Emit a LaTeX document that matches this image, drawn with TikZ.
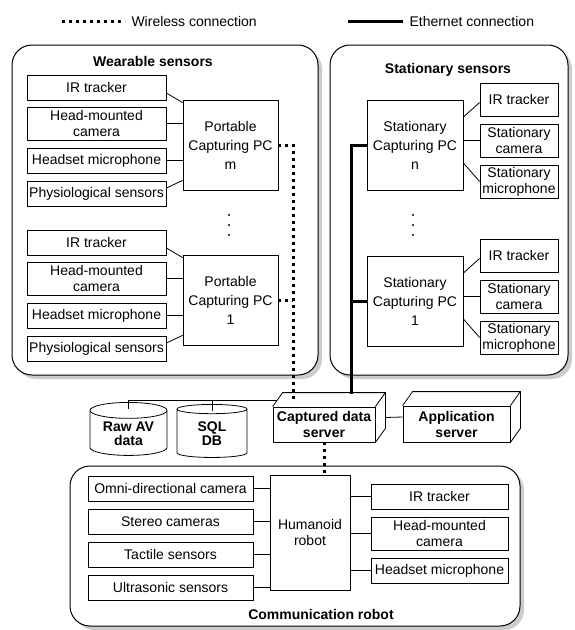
\documentclass[tikz,border=0pt]{standalone}
\usepackage{fontspec}
\setmainfont{Liberation Sans}
\usepackage{tikz}
\usetikzlibrary{calc,shapes.geometric,shadows}

\tikzset{
  box/.style={draw,line width=0.8pt,inner sep=2pt,align=center},
  pcbox/.style={box,minimum width=95pt,minimum height=90pt,font=\fontsize{14}{19}\selectfont},
  group/.style={draw,line width=1pt,rounded corners=20pt,fill=white,
    drop shadow={shadow xshift=4pt,shadow yshift=-4pt,fill=gray!40,opacity=1}},
  title/.style={font=\fontsize{14}{16}\selectfont\bfseries},
  db/.style={draw,line width=0.8pt,cylinder,shape border rotate=90,aspect=0.3,
    align=center,inner sep=1pt,font=\fontsize{14}{14}\selectfont\bfseries},
  server/.style={box,fill=white,font=\fontsize{14}{16}\selectfont\bfseries},
  link/.style={line width=0.8pt},
  wireless/.style={line width=3pt,dash pattern=on 3pt off 4pt},
  ethernet/.style={line width=3pt}
}

\begin{document}
\begin{tikzpicture}[x=1pt,y=-1pt,font=\fontsize{14}{16}\selectfont]
  \useasboundingbox (0,0) rectangle (575,630);

  % legend
  \coordinate (wlA) at (62,21);
  \coordinate (wlB) at (125,21);
  \draw[wireless] (wlA) -- (wlB);
  \node[anchor=west] (wlText) at (128,21) {Wireless connection};
  \coordinate (elA) at (348,21);
  \coordinate (elB) at (403,21);
  \draw[ethernet] (elA) -- (elB);
  \node[anchor=west] (elText) at (406,21) {Ethernet connection};

  % groups
  \node[group,minimum width=306pt,minimum height=330pt] (wear) at (165,210) {};
  \node[group,minimum width=238pt,minimum height=330pt] (stat) at (449,210) {};
  \node[group,minimum width=450pt,minimum height=160pt] (comm) at (295,546) {};
  \node[title] (wearT) at (153,61) {Wearable sensors};
  \node[title] (statT) at (448,70) {Stationary sensors};
  \node[title] (commT) at (321,614) {Communication robot};

  \foreach \g/\dy in {m/0,1/155} {
    \begin{scope}[yshift=-\dy pt]
      \node[box,minimum width=139pt,minimum height=25pt] (irW\g) at (96.5,87.5) {IR tracker};
      \node[box,minimum width=139pt,minimum height=33pt] (hmW\g) at (96.5,123.5) {Head-mounted\\camera};
      \node[box,minimum width=139pt,minimum height=25pt] (hsW\g) at (96.5,160.5) {Headset microphone};
      \node[box,minimum width=139pt,minimum height=25pt] (phW\g) at (96.5,194) {Physiological sensors};
      \node[pcbox] (pcW\g) at (230.5,145) {Portable\\Capturing PC\\\g};
      \draw[link] ($(irW\g.east)+(0,5.5)$) -- ($(pcW\g.north west)+(0,3)$);
      \draw[link] (hmW\g.east) -- (hmW\g.east -| pcW\g.west);
      \draw[link] (hsW\g.east) -- (hsW\g.east -| pcW\g.west);
      \draw[link] ($(phW\g.east)+(0,-6)$) -- ($(pcW\g.south west)+(0,-10)$);
    \end{scope}
  }
  \foreach \g/\dy in {n/0,1/156} {
    \begin{scope}[yshift=-\dy pt]
      \node[box,minimum width=78pt,minimum height=33pt] (irS\g) at (519,99.5) {IR tracker};
      \node[box,minimum width=78pt,minimum height=33pt] (camS\g) at (519,140.5) {Stationary\\camera};
      \node[box,minimum width=78pt,minimum height=33pt] (micS\g) at (519,181.5) {Stationary\\microphone};
      \node[pcbox,minimum width=96pt] (pcS\g) at (415,145) {Stationary\\Capturing PC\\\g};
      \draw[link] ($(pcS\g.east)+(0,-28)$) -- ($(irS\g.west)+(0,3)$);
      \draw[link] (pcS\g.east |- camS\g.west) -- (camS\g.west);
      \draw[link] ($(pcS\g.east)+(0,18)$) -- (micS\g.west);
    \end{scope}
  }
  \foreach \x in {229,413}
    \foreach \d in {-10,0,10}
      \fill (\x,225+\d) circle (1.2pt);

  % servers and storage
  \node[server,minimum width=102pt,minimum height=35pt] (cap) at (324,424.5) {Captured data\\server};
  \node[server,minimum width=107pt,minimum height=36pt] (app) at (456.5,424) {Application\\server};
  \foreach \s in {cap,app}
    \draw[line width=0.8pt] (\s.north west) -- ++(10,-14) -- ($(\s.north east)+(10,-14)$)
      -- ($(\s.south east)+(10,-14)$) -- (\s.south east) (\s.north east) -- ++(10,-14);
  \node[db,minimum width=77pt,minimum height=53pt] (raw) at (128.5,434) {Raw AV\\data};
  \node[db,minimum width=70pt,minimum height=53pt] (sql) at (212,434) {SQL\\DB};
  \coordinate (dbBus) at ($(cap.north west)+(4,-6)$);
  \draw[link] (dbBus) -| ($(raw.north)+(0,7)$);
  \draw[link] (sql.north |- dbBus) -- ($(sql.north)+(0,7)$);
  \draw[link] ($(cap.east)+(10,-7)$) -- ($(app.west)+(0,-7)$);

  % robot
  \node[box,minimum width=80pt,minimum height=115pt] (hum) at (310,532.5) {Humanoid\\robot};
  \node[box,minimum width=165pt,minimum height=25pt] (omni) at (170.5,488.5) {Omni-directional camera};
  \node[box,minimum width=165pt,minimum height=25pt] (stereo) at (170.5,521.5) {Stereo cameras};
  \node[box,minimum width=165pt,minimum height=25pt] (tact) at (170.5,554.5) {Tactile sensors};
  \node[box,minimum width=165pt,minimum height=25pt] (ultra) at (170.5,587.5) {Ultrasonic sensors};
  \node[box,minimum width=137pt,minimum height=25pt] (irR) at (439.5,496.5) {IR tracker};
  \node[box,minimum width=137pt,minimum height=33pt] (hmR) at (439.5,533.5) {Head-mounted\\camera};
  \node[box,minimum width=137pt,minimum height=25pt] (hsR) at (439.5,570.5) {Headset microphone};
  \foreach \s in {omni,stereo,tact,ultra}
    \draw[link] (\s.east) -- (\s.east -| hum.west);
  \foreach \s in {irR,hmR,hsR}
    \draw[link] (hum.east |- \s.west) -- (\s.west);

  % connections
  \coordinate (wDrop) at (293,400);
  \draw[wireless] (pcWm.east) -| (wDrop);
  \draw[wireless] (pcW1.east) -- (pcW1.east -| wDrop);
  \coordinate (eDrop) at (351,394);
  \draw[ethernet] (pcSn.west) -| (eDrop);
  \draw[ethernet] (pcS1.west) -- (pcS1.west -| eDrop);
  \draw[wireless] (cap.south) -- (cap.south |- hum.north);
\end{tikzpicture}
\end{document}
